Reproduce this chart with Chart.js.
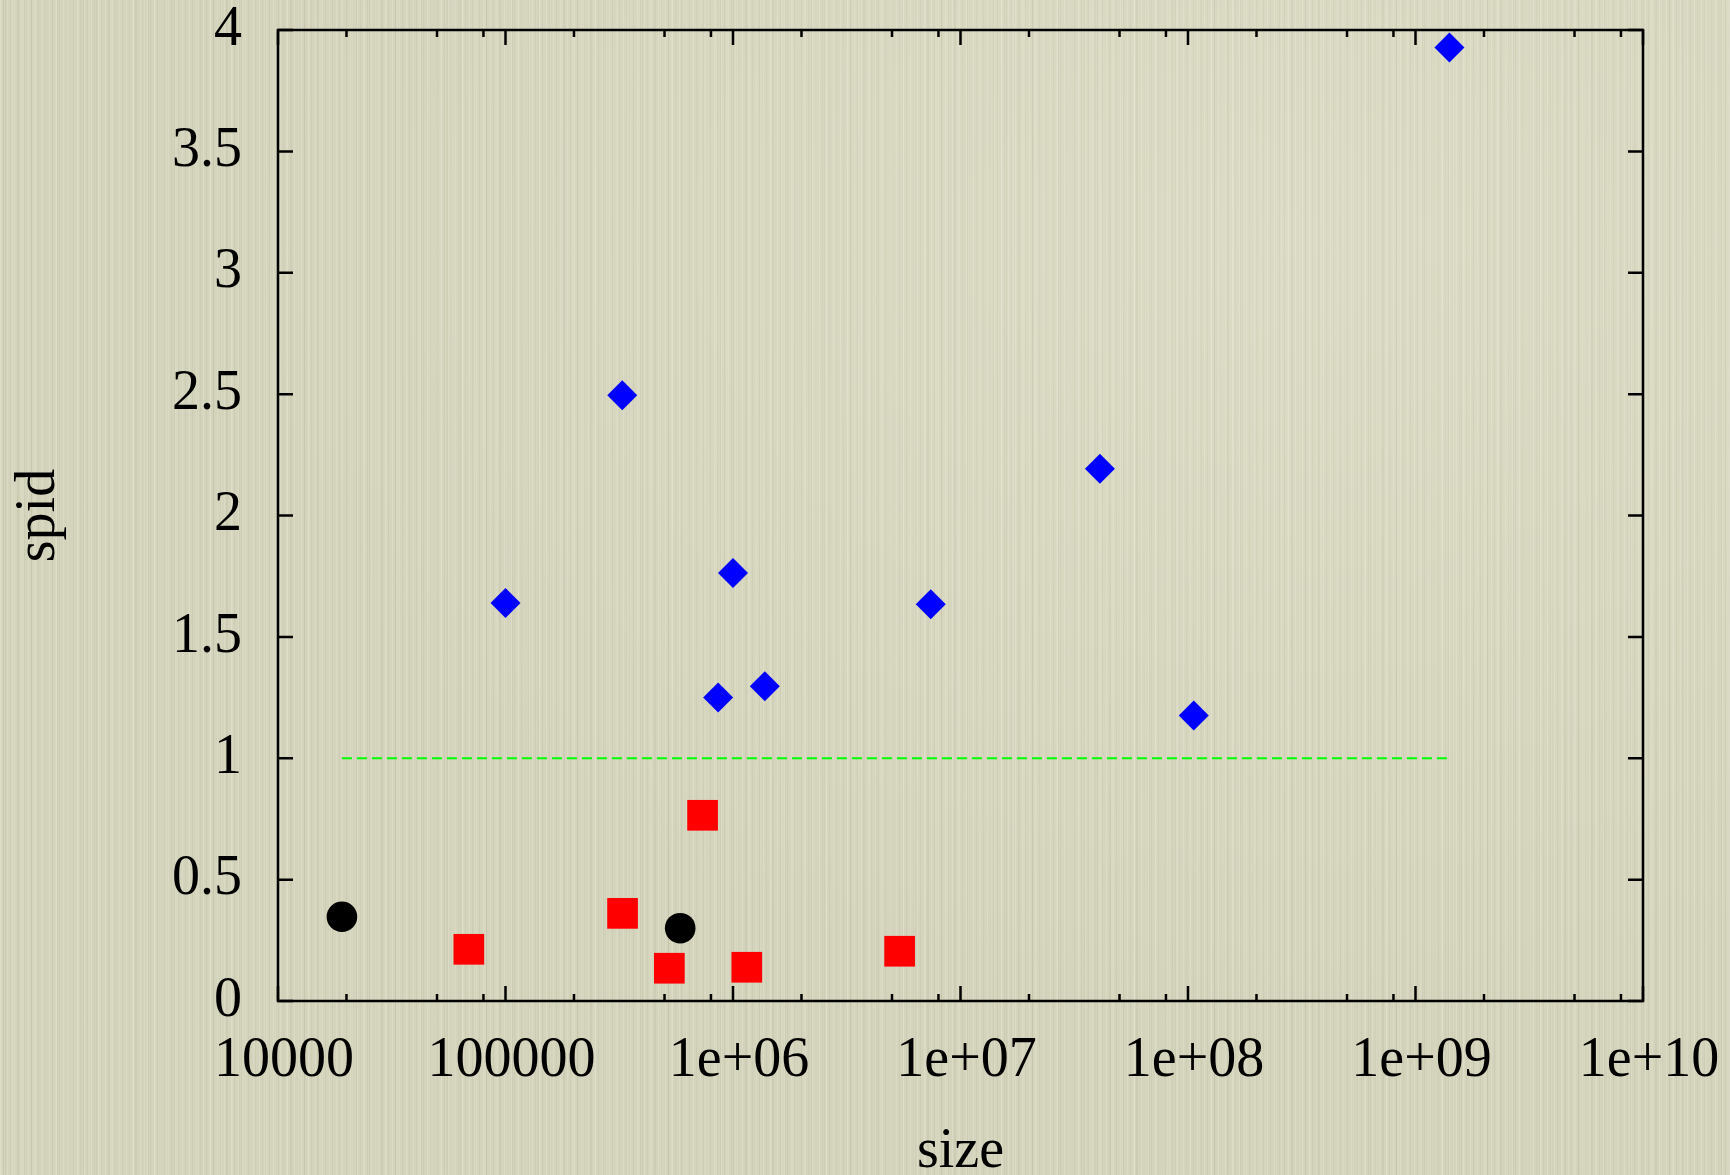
<!DOCTYPE html>
<html>
<head>
<meta charset="utf-8">
<script src="https://cdn.jsdelivr.net/npm/chart.js@4"></script>
<style>
  html, body {
    margin: 0;
    padding: 0;
  }
  body {
    width: 1730px;
    height: 1175px;
    overflow: hidden;
    background-color: #d4d3bb;
    background-image:
      radial-gradient(ellipse at 75% 20%, rgba(255,255,240,0.18), rgba(255,255,240,0) 60%),
      repeating-linear-gradient(90deg, rgba(255,255,245,0.16) 0 1px, rgba(0,0,0,0) 1px 3px, rgba(80,80,50,0.05) 3px 4px, rgba(0,0,0,0) 4px 7px),
      repeating-linear-gradient(90deg, rgba(255,255,240,0.10) 0 2px, rgba(0,0,0,0) 2px 11px),
      repeating-linear-gradient(90deg, rgba(0,0,0,0) 0 5px, rgba(90,90,60,0.06) 5px 6px, rgba(0,0,0,0) 6px 13px);
  }
  canvas {
    display: block;
  }
</style>
</head>
<body>
<canvas id="chart" width="1730" height="1175"></canvas>
<script>
// sizes (x) and spid (y) for each group
const blueSize = [1.0e5, 3.26e5, 8.6e5, 1.0e6, 1.38e6, 7.4e6, 4.1e7, 1.06e8, 1.41e9];
const blueSpid = [1.64, 2.495, 1.25, 1.763, 1.297, 1.634, 2.193, 1.176, 3.928];

const redSize = [6.9e4, 3.27e5, 5.25e5, 7.35e5, 1.15e6, 5.4e6];
const redSpid = [0.213, 0.361, 0.135, 0.765, 0.139, 0.205];

const blackSize = [1.91e4, 5.86e5];
const blackSpid = [0.347, 0.30];

// reference line spid = 1
const refSize = [1.91e4, 1.41e9];
const refSpid = [1, 1];

// axis ticks
const xTickValues = [1e4, 1e5, 1e6, 1e7, 1e8, 1e9, 1e10];
const xTickLabels = ['10000', '100000', '1e+06', '1e+07', '1e+08', '1e+09', '1e+10'];
const xMinorFactors = [2, 5, 8];
const yTickValues = [0, 0.5, 1, 1.5, 2, 2.5, 3, 3.5, 4];
const yTickLabels = ['0', '0.5', '1', '1.5', '2', '2.5', '3', '3.5', '4'];

const FONT = '"Liberation Serif", "Times New Roman", serif';

function toPoints(xs, ys) {
    return xs.map((x, i) => ({ x: x, y: ys[i] }));
}

// no extra room for first/last labels, the layout padding handles it
function noScalePadding(scale) {
    scale.paddingTop = 0;
    scale.paddingBottom = 0;
    scale.paddingLeft = 0;
    scale.paddingRight = 0;
}

// frame and inward tick marks, gnuplot style
const framePlugin = {
    id: 'frame',
    beforeDatasetsDraw(chart) {
        const ctx = chart.ctx;
        const area = chart.chartArea;
        const xs = chart.scales.x;
        const ys = chart.scales.y;
        const major = 15;
        const minor = 7;

        ctx.save();
        ctx.strokeStyle = '#000';
        ctx.lineWidth = 2.5;
        ctx.beginPath();
        ctx.rect(area.left, area.top, area.right - area.left, area.bottom - area.top);
        ctx.stroke();

        ctx.beginPath();
        xTickValues.forEach((v, i) => {
            const px = xs.getPixelForValue(v);
            ctx.moveTo(px, area.bottom);
            ctx.lineTo(px, area.bottom - major);
            ctx.moveTo(px, area.top);
            ctx.lineTo(px, area.top + major);
            if (i < xTickValues.length - 1) {
                xMinorFactors.forEach(f => {
                    const mx = xs.getPixelForValue(v * f);
                    ctx.moveTo(mx, area.bottom);
                    ctx.lineTo(mx, area.bottom - minor);
                    ctx.moveTo(mx, area.top);
                    ctx.lineTo(mx, area.top + minor);
                });
            }
        });
        yTickValues.forEach(v => {
            const py = ys.getPixelForValue(v);
            ctx.moveTo(area.left, py);
            ctx.lineTo(area.left + major, py);
            ctx.moveTo(area.right, py);
            ctx.lineTo(area.right - major, py);
        });
        ctx.stroke();
        ctx.restore();
    }
};

const ctx = document.getElementById('chart').getContext('2d');
new Chart(ctx, {
    type: 'scatter',
    data: {
        datasets: [
            {
                label: 'ref',
                data: toPoints(refSize, refSpid),
                showLine: true,
                borderColor: '#00ff00',
                borderWidth: 2,
                borderDash: [10, 5],
                pointRadius: 0,
                fill: false
            },
            {
                label: 'blue',
                data: toPoints(blueSize, blueSpid),
                pointStyle: 'rectRot',
                pointRadius: 15,
                backgroundColor: '#0000ff',
                borderColor: '#0000ff',
                borderWidth: 0
            },
            {
                label: 'red',
                data: toPoints(redSize, redSpid),
                pointStyle: 'rect',
                pointRadius: 21.7,
                backgroundColor: '#ff0000',
                borderColor: '#ff0000',
                borderWidth: 0
            },
            {
                label: 'black',
                data: toPoints(blackSize, blackSpid),
                pointStyle: 'circle',
                pointRadius: 15.3,
                backgroundColor: '#000000',
                borderColor: '#000000',
                borderWidth: 0
            }
        ]
    },
    options: {
        responsive: false,
        animation: false,
        layout: {
            padding: { top: 30, right: 87, left: 0, bottom: 0 }
        },
        plugins: {
            legend: { display: false },
            tooltip: { enabled: false }
        },
        scales: {
            x: {
                type: 'logarithmic',
                min: 1e4,
                max: 1e10,
                grid: { display: false, drawTicks: false },
                border: { display: false },
                afterBuildTicks: scale => {
                    scale.ticks = xTickValues.map(v => ({ value: v, major: true }));
                },
                afterFit: scale => {
                    scale.height = 174;
                    noScalePadding(scale);
                },
                ticks: {
                    autoSkip: false,
                    maxRotation: 0,
                    padding: 32,
                    labelOffset: 6,
                    color: '#000',
                    font: { family: FONT, size: 56, lineHeight: 1 },
                    callback: (value, index) => xTickLabels[index]
                },
                title: {
                    display: true,
                    text: 'size',
                    color: '#000',
                    font: { family: FONT, size: 56, lineHeight: 1 },
                    padding: { top: 0, bottom: -5 }
                }
            },
            y: {
                min: 0,
                max: 4,
                grid: { display: false, drawTicks: false },
                border: { display: false },
                afterBuildTicks: scale => {
                    scale.ticks = yTickValues.map(v => ({ value: v }));
                },
                afterFit: scale => {
                    scale.width = 278;
                    noScalePadding(scale);
                },
                ticks: {
                    padding: 36,
                    color: '#000',
                    font: { family: FONT, size: 56, lineHeight: 1 },
                    callback: (value, index) => yTickLabels[index]
                },
                title: {
                    display: true,
                    text: 'spid',
                    color: '#000',
                    font: { family: FONT, size: 56, lineHeight: 1 },
                    padding: { top: 11, bottom: 0 }
                }
            }
        }
    },
    plugins: [framePlugin]
});
</script>
</body>
</html>
